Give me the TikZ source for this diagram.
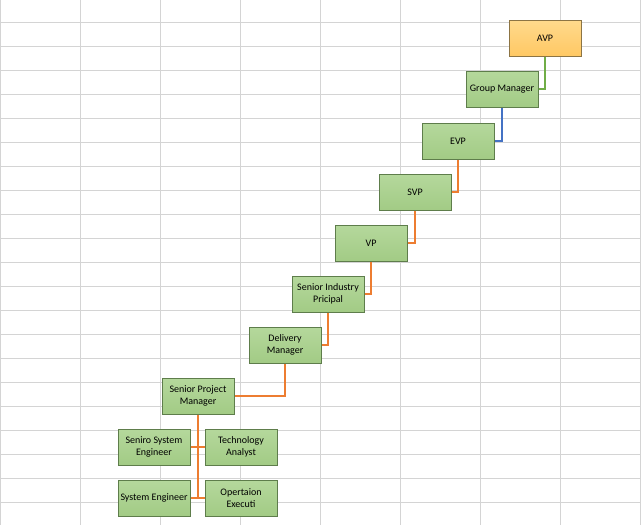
\documentclass[tikz,border=0pt]{standalone}
\usepackage{fontspec}
\setmainfont{Carlito}
\definecolor{gridgray}{HTML}{D4D4D4}
\definecolor{boxgreen}{HTML}{B5D89C}
\definecolor{boxgreendk}{HTML}{A2CB85}
\definecolor{edgegreen}{HTML}{5E7D4B}
\definecolor{boxgold}{HTML}{FFDA8C}
\definecolor{boxgolddk}{HTML}{FFC864}
\definecolor{edgegold}{HTML}{8C7444}
\definecolor{linkorange}{HTML}{ED7D31}
\definecolor{linkgreen}{HTML}{70AD47}
\definecolor{linkblue}{HTML}{4472C4}
\begin{document}
\begin{tikzpicture}[x=0.75pt,y=-0.75pt,
  role/.style={draw=edgegreen,line width=0.75pt,top color=boxgreen,bottom color=boxgreendk,
    minimum width=54pt,minimum height=27pt,inner sep=1pt,align=center,
    font=\fontsize{7.5}{9}\selectfont},
  head/.style={role,draw=edgegold,top color=boxgold,bottom color=boxgolddk},
  link/.style={line width=1.6pt,linkorange}]
  \useasboundingbox (0,0) rectangle (641,525);
  % sheet grid
  \foreach \x in {0,80,...,640}
    \draw[gridgray,line width=0.75pt] (\x,0) -- (\x,525);
  \foreach \y in {22,46,...,502}
    \draw[gridgray,line width=0.75pt] (0,\y) -- (641,\y);
  % boxes
  \node (avp) [head] at (545,38) {AVP};
  \node (gm) [role] at (502,89) {Group Manager};
  \node (evp) [role] at (458,141) {EVP};
  \node (svp) [role] at (415,192) {SVP};
  \node (vp) [role] at (371,243) {VP};
  \node (sip) [role] at (328,294) {Senior Industry\\Pricipal};
  \node (dm) [role] at (285,345) {Delivery\\Manager};
  \node (spm) [role] at (198,396) {Senior Project\\Manager};
  \node (sse) [role] at (154,447) {Seniro System\\Engineer};
  \node (ta) [role] at (241,447) {Technology\\Analyst};
  \node (se) [role] at (154,498) {System Engineer};
  \node (oe) [role] at (241,498) {Opertaion\\Executi};
  % links
  \draw[link,linkgreen] (avp.south) |- (gm.east);
  \draw[link,linkblue] (gm.south) |- (evp.east);
  \draw[link] (evp.south) |- (svp.east);
  \draw[link] (svp.south) |- (vp.east);
  \draw[link] (vp.south) |- (sip.east);
  \draw[link] (sip.south) |- (dm.east);
  \draw[link] (dm.south) |- (spm.east);
  \draw[link] (spm.south) -- (spm.south |- se.east);
  \draw[link] (sse.east) -- (ta.west);
  \draw[link] (se.east) -- (oe.west);
\end{tikzpicture}
\end{document}
